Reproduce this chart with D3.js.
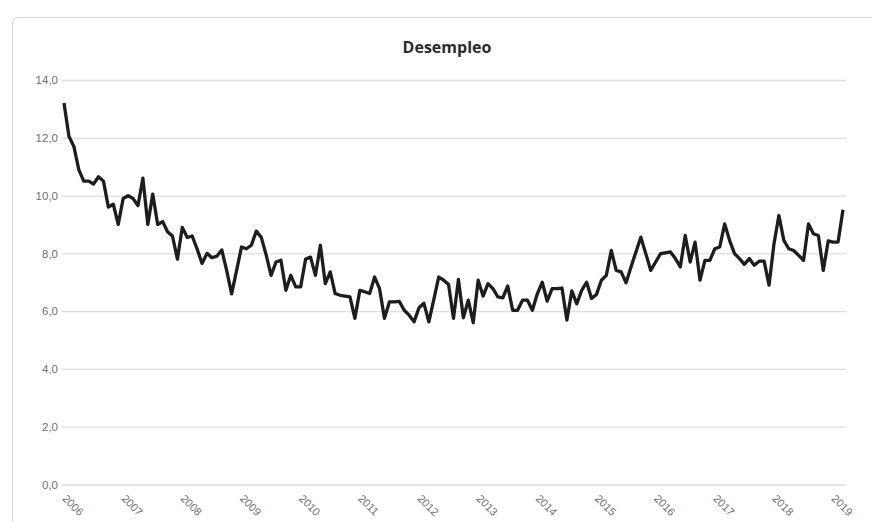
<!DOCTYPE html>
<html>
<head>
<meta charset="utf-8">
<script src="https://cdn.jsdelivr.net/npm/d3@7"></script>
<style>
  body { margin: 0; background: #fff; }
  svg { display: block; font-family: "Open Sans", "Noto Sans", sans-serif; }
</style>
</head>
<body>
<svg id="chart" width="872" height="522"></svg>
<script>
// Monthly unemployment, Jan 2006 .. Mar 2019
const startYear = 2006;
const desempleo = [
  13.2, 12.05, 11.7, 10.9, 10.5, 10.5, 10.4, 10.65, 10.5, 9.6, 9.7, 9.0,
  9.9, 10.0, 9.9, 9.65, 10.6, 9.0, 10.05, 9.0, 9.1, 8.75, 8.6, 7.8,
  8.9, 8.55, 8.6, 8.15, 7.65, 8.0, 7.85, 7.9, 8.12, 7.4, 6.6, 7.4,
  8.22, 8.16, 8.28, 8.77, 8.56, 7.95, 7.24, 7.7, 7.76, 6.72, 7.24, 6.84,
  6.84, 7.8, 7.87, 7.24, 8.28, 6.95, 7.36, 6.61, 6.55, 6.52, 6.49, 5.75,
  6.72, 6.67, 6.61, 7.18, 6.78, 5.75, 6.32, 6.32, 6.34, 6.03, 5.86, 5.63,
  6.12, 6.27, 5.63, 6.4, 7.18, 7.07, 6.92, 5.75, 7.1, 5.77, 6.38, 5.6,
  7.07, 6.52, 6.95, 6.78, 6.49, 6.46, 6.87, 6.03, 6.03, 6.38, 6.38, 6.03,
  6.6, 7.0, 6.35, 6.78, 6.78, 6.8, 5.69, 6.7, 6.25, 6.72, 7.0, 6.44,
  6.58, 7.07, 7.24, 8.1, 7.41, 7.36, 6.98, 7.53, 8.05, 8.56, 7.99, 7.41,
  7.7, 7.99, 8.02, 8.05, 7.82, 7.53, 8.62, 7.7, 8.39, 7.07, 7.76, 7.76,
  8.16, 8.22, 9.02, 8.45, 7.99, 7.82, 7.62, 7.82, 7.59, 7.73, 7.73, 6.9,
  8.33, 9.31, 8.45, 8.16, 8.1, 7.93, 7.76, 9.02, 8.68, 8.62, 7.41, 8.43,
  8.39, 8.39, 9.51
];
const years = ["2006", "2007", "2008", "2009", "2010", "2011", "2012",
               "2013", "2014", "2015", "2016", "2017", "2018", "2019"];
const yTicks = [0, 2, 4, 6, 8, 10, 12, 14];

// month keys used as categories ("2006-01", ...)
const months = desempleo.map((d, i) =>
  (startYear + Math.floor(i / 12)) + "-" + String(i % 12 + 1).padStart(2, "0"));

const svg = d3.select("#chart");

// chart frame (Excel style)
svg.append("path")
  .attr("d", "M12.5,522 L12.5,24 Q12.5,17.5 19,17.5 L872,17.5")
  .attr("fill", "none")
  .attr("stroke", "#d6d6d6")
  .attr("stroke-width", 1);

const x = d3.scalePoint()
  .domain(months)
  .range([64, 843]);

const y = d3.scaleLinear()
  .domain([0, 14])
  .range([484.5, 80]);

const fmt = d => d.toFixed(1).replace(".", ",");

// gridlines + y labels
const yAxis = svg.append("g")
  .attr("transform", "translate(62,0)")
  .call(d3.axisLeft(y).tickValues(yTicks).tickSize(-784).tickFormat(fmt).tickPadding(4));
yAxis.select(".domain").remove();
yAxis.selectAll(".tick line").attr("stroke", "#dedede").attr("stroke-width", 1.3);
yAxis.selectAll(".tick text")
  .attr("fill", "#707070")
  .style("font-size", "11.5px");

// x labels, rotated
const xAxis = svg.append("g")
  .attr("transform", "translate(0,484.5)")
  .call(d3.axisBottom(x)
    .tickValues(years.map(yr => yr + "-01"))
    .tickSize(0)
    .tickFormat(d => d.slice(0, 4)));
xAxis.select(".domain").remove();
xAxis.selectAll(".tick text")
  .attr("fill", "#707070")
  .style("font-size", "11px")
  .attr("text-anchor", "start")
  .attr("transform", "translate(-2,14) rotate(45)")
  .attr("dy", "0.1em")
  .attr("y", 0);

// the series
const line = d3.line()
  .x((d, i) => x(months[i]))
  .y(d => y(d));

svg.append("path")
  .datum(desempleo)
  .attr("fill", "none")
  .attr("stroke", "#1d1d1d")
  .attr("stroke-width", 3.3)
  .attr("stroke-linejoin", "round")
  .attr("d", line);

// title
svg.append("text")
  .attr("x", 447)
  .attr("y", 53)
  .attr("text-anchor", "middle")
  .attr("fill", "#2b2b2b")
  .style("font-size", "16px")
  .style("font-weight", "bold")
  .text("Desempleo");
</script>
</body>
</html>
